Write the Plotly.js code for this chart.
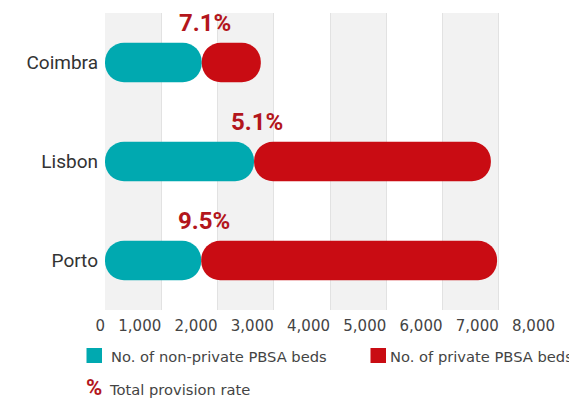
<!DOCTYPE html>
<html>
<head>
<meta charset="utf-8">
<script src="https://cdn.plot.ly/plotly-3.0.1.min.js"></script>
<style>html,body{margin:0;padding:0;background:#fff;}#chart{width:569px;height:403px;}</style>
</head>
<body>
<div id="chart"></div>
<script>
// ---- data ----
const cities = ['Coimbra', 'Lisbon', 'Porto'];
const nonPrivateBeds = [1720, 2650, 1710];
const privateBeds = [1050, 4210, 5260];
const provisionRate = ['7.1%', '5.1%', '9.5%'];
const xTickValues = [0, 1000, 2000, 3000, 4000, 5000, 6000, 7000, 8000];
const xTickLabels = ['0', '1,000', '2,000', '3,000', '4,000', '5,000', '6,000', '7,000', '8,000'];
const seriesNames = ['No. of non-private PBSA beds', 'No. of private PBSA beds'];
const rateLegendLabel = 'Total provision rate';

// ---- styling ----
const TEAL = '#00a9b0';
const RED = '#c90c13';
const LABEL_RED = '#b3161c';

// each segment is its own pill-shaped bar starting at its base
function pillTrace(starts, lengths, color, name) {
  return {
    type: 'bar', orientation: 'h', y: cities, x: lengths, base: starts, width: 0.4,
    marker: {color: color, cornerradius: '50%', line: {width: 0}},
    name: name, showlegend: false, hoverinfo: 'skip'
  };
}

const traces = [
  pillTrace(cities.map(() => 0), nonPrivateBeds, TEAL, seriesNames[0]),
  pillTrace(nonPrivateBeds, privateBeds, RED, seriesNames[1])
];

// alternating background bands
const shapes = [];
for (let i = 0; i + 1 < xTickValues.length; i += 2) {
  shapes.push({type: 'rect', xref: 'x', yref: 'paper', x0: xTickValues[i], x1: xTickValues[i + 1], y0: 0, y1: 1,
    fillcolor: '#f2f2f2', line: {width: 0}, layer: 'below'});
}
// legend swatches (pixel sized, anchored to the plot's bottom-left corner)
function swatch(px0, px1, color) {
  return {type: 'rect', xref: 'paper', yref: 'paper', xsizemode: 'pixel', ysizemode: 'pixel',
    xanchor: 0, yanchor: 0, x0: px0, x1: px1, y0: -38, y1: -53, fillcolor: color, line: {width: 0}};
}
shapes.push(swatch(-18.5, -3, TEAL));
shapes.push(swatch(265.5, 281, RED));

const legendFont = {family: 'DejaVu Sans', size: 14.7, color: '#444'};
const annotations = cities.map((c, i) => ({
  x: nonPrivateBeds[i], y: c, xref: 'x', yref: 'y', text: provisionRate[i], showarrow: false,
  xanchor: 'center', yanchor: 'middle', xshift: 3, yshift: 40,
  font: {family: 'Roboto', size: 24, color: LABEL_RED, weight: 'bold'}
}));
annotations.push({xref: 'paper', yref: 'paper', x: 0, y: 0, xanchor: 'left', yanchor: 'middle',
  xshift: 4, yshift: -46, text: seriesNames[0], showarrow: false, font: legendFont});
annotations.push({xref: 'paper', yref: 'paper', x: 0, y: 0, xanchor: 'left', yanchor: 'middle',
  xshift: 283, yshift: -46, text: seriesNames[1], showarrow: false, font: legendFont});
annotations.push({xref: 'paper', yref: 'paper', x: 0, y: 0, xanchor: 'left', yanchor: 'middle',
  xshift: -21, yshift: -77, text: '%', showarrow: false,
  font: {family: 'Roboto', size: 22, color: LABEL_RED, weight: 'bold'}});
annotations.push({xref: 'paper', yref: 'paper', x: 0, y: 0, xanchor: 'left', yanchor: 'middle',
  xshift: 2, yshift: -79, text: rateLegendLabel, showarrow: false, font: legendFont});

const layout = {
  width: 569, height: 403,
  margin: {l: 105, r: 14, t: 13, b: 93, pad: 0},
  paper_bgcolor: '#ffffff', plot_bgcolor: '#ffffff',
  barmode: 'overlay',
  showlegend: false,
  xaxis: {
    range: [0, 8000], tickvals: xTickValues, ticktext: xTickLabels,
    ticklabelposition: 'outside left', ticklabelstandoff: 5,
    showgrid: true, gridcolor: '#e2e2e2', gridwidth: 1, zeroline: false,
    showline: false, ticks: '', fixedrange: true,
    tickfont: {family: 'DejaVu Sans', size: 15, color: '#444'}
  },
  yaxis: {
    type: 'category', categoryarray: cities, range: [2.5, -0.5],
    showgrid: false, zeroline: false, showline: false, ticks: '', fixedrange: true,
    ticklabelstandoff: 6,
    tickfont: {family: 'Roboto', size: 19, color: '#333'}
  },
  shapes: shapes,
  annotations: annotations
};

Plotly.newPlot('chart', traces, layout, {staticPlot: true, displayModeBar: false});
</script>
</body>
</html>
